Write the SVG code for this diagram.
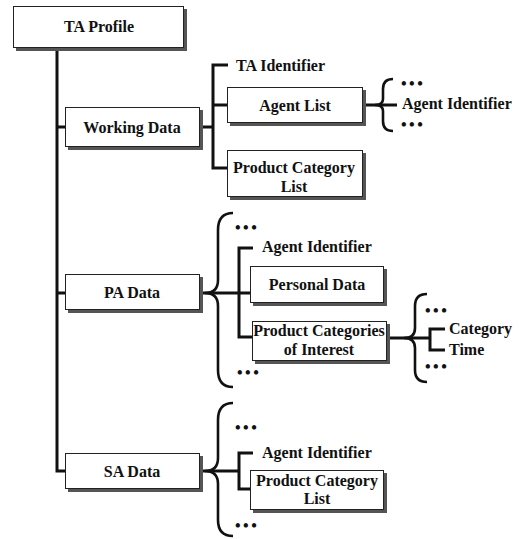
<svg xmlns="http://www.w3.org/2000/svg" width="527" height="539" viewBox="0 0 527 539">
  <style>
    .box { fill: #fff; stroke: #222; stroke-width: 1; }
    .shadow { fill: #555; }
    .wire { fill: none; stroke: #111; stroke-width: 3; stroke-linejoin: miter; }
    .brace { fill: none; stroke: #111; stroke-width: 2.6; }
    text { font-family: "Liberation Serif", "Times New Roman", serif; font-weight: bold; font-size: 16px; fill: #111; }
    .c { text-anchor: middle; }
    .dots { font-size: 16px; letter-spacing: 2.5px; }
  </style>
  <rect width="527" height="539" fill="#fff"/>

  <!-- connectors -->
  <g id="connectors">
    <!-- trunk from TA Profile -->
    <path class="wire" d="M57,48 V471 H66 M57,127 H66 M57,293 H66"/>
    <!-- Working Data branch -->
    <path class="wire" d="M200,127 H213 M228,65 H213 V168 H228 M213,105 H228"/>
    <!-- Agent List brace -->
    <path class="wire" d="M363,105 H397"/>
    <path class="brace" d="M393,79 Q383,79 383,89 V99 Q383,105 375,105 Q383,105 383,111 V121 Q383,131 393,131"/>
    <!-- PA Data brace -->
    <path class="brace" d="M233,213 Q218,213 218,230 V280 Q218,293 205,293 Q218,293 218,306 V370 Q218,387 233,387"/>
    <path class="wire" d="M200,293 H250 M253,248 H239 V337 H253"/>
    <!-- Product Categories of Interest brace -->
    <path class="wire" d="M387,338 H430 M445,329 H430 V350 H445"/>
    <path class="brace" d="M427,294 Q415,294 415,306 V328 Q415,338 404,338 Q415,338 415,348 V370 Q415,382 427,382"/>
    <!-- SA Data brace -->
    <path class="brace" d="M233,403 Q218,403 218,420 V458 Q218,471 205,471 Q218,471 218,484 V520 Q218,536 233,536"/>
    <path class="wire" d="M200,471 H239 M253,453 H239 V489 H251"/>
  </g>

  <g id="ta-profile">
    <rect class="shadow" x="16" y="9" width="171" height="42"/>
    <rect class="box" x="13.5" y="6.5" width="170" height="41"/>
    <text class="c" x="99" y="32">TA Profile</text>
  </g>

  <g id="working-data">
    <rect class="shadow" x="68" y="110" width="135" height="40"/>
    <rect class="box" x="65.5" y="107.5" width="134" height="39"/>
    <text class="c" x="132" y="133">Working Data</text>
  </g>

  <g id="ta-identifier">
    <text x="236" y="71">TA Identifier</text>
  </g>

  <g id="agent-list">
    <rect class="shadow" x="230" y="90" width="136" height="36"/>
    <rect class="box" x="227.5" y="87.5" width="135" height="35"/>
    <text class="c" x="295" y="111">Agent List</text>
  </g>

  <g id="agent-list-items">
    <text class="dots" x="401" y="89">•••</text>
    <text x="402" y="109">Agent Identifier</text>
    <text class="dots" x="401" y="130">•••</text>
  </g>

  <g id="product-category-list-1">
    <rect class="shadow" x="230" y="153" width="136" height="47"/>
    <rect class="box" x="227.5" y="150.5" width="135" height="46"/>
    <text class="c" x="294" y="173">Product Category</text>
    <text class="c" x="294" y="192">List</text>
  </g>

  <g id="pa-data">
    <rect class="shadow" x="68" y="277" width="135" height="36"/>
    <rect class="box" x="65.5" y="274.5" width="134" height="35"/>
    <text class="c" x="132" y="298">PA Data</text>
  </g>

  <g id="pa-items">
    <text class="dots" x="235" y="233">•••</text>
    <text x="262" y="252">Agent Identifier</text>
    <text class="dots" x="237" y="378">•••</text>
  </g>

  <g id="personal-data">
    <rect class="shadow" x="253" y="269" width="134" height="37"/>
    <rect class="box" x="250.5" y="266.5" width="133" height="36"/>
    <text class="c" x="317" y="290">Personal Data</text>
  </g>

  <g id="product-categories-of-interest">
    <rect class="shadow" x="255" y="324" width="135" height="40"/>
    <rect class="box" x="252.5" y="321.5" width="134" height="39"/>
    <text class="c" x="319" y="336">Product Categories</text>
    <text class="c" x="319" y="355">of Interest</text>
  </g>

  <g id="interest-items">
    <text class="dots" x="425" y="316">•••</text>
    <text x="449" y="334">Category</text>
    <text x="449" y="355">Time</text>
    <text class="dots" x="425" y="372">•••</text>
  </g>

  <g id="sa-data">
    <rect class="shadow" x="68" y="456" width="135" height="36"/>
    <rect class="box" x="65.5" y="453.5" width="134" height="35"/>
    <text class="c" x="132" y="477">SA Data</text>
  </g>

  <g id="sa-items">
    <text class="dots" x="235" y="433">•••</text>
    <text x="262" y="458">Agent Identifier</text>
    <text class="dots" x="235" y="531">•••</text>
  </g>

  <g id="product-category-list-2">
    <rect class="shadow" x="253" y="473" width="134" height="40"/>
    <rect class="box" x="250.5" y="470.5" width="133" height="39"/>
    <text class="c" x="317" y="486">Product Category</text>
    <text class="c" x="317" y="504">List</text>
  </g>
</svg>
